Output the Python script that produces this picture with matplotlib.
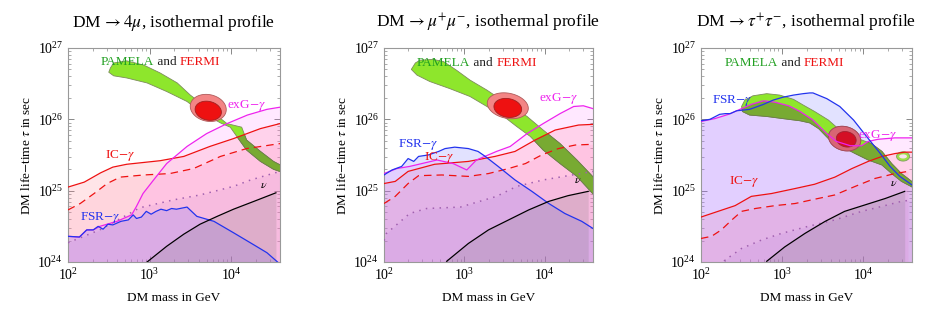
import numpy as np
import matplotlib
matplotlib.use("Agg")
import matplotlib.pyplot as plt

plt.rcParams['font.family'] = 'serif'
plt.rcParams['font.serif'] = ['Liberation Serif', 'DejaVu Serif']
plt.rcParams['mathtext.fontset'] = 'stix'

# all values as log10(mass / GeV) and log10(tau / s)

# ---- DM -> 4 mu ----
mu4_ic_m = [2.0, 2.20, 2.40, 2.55, 2.72, 3.13, 3.42, 3.74, 4.03, 4.36, 4.6]
mu4_ic_t = [25.05, 25.12, 25.25, 25.33, 25.37, 25.42, 25.48, 25.62, 25.73, 25.87, 25.94]
mu4_icd_m = [2.0, 2.15, 2.32, 2.48, 2.64, 2.93, 3.25, 3.54, 3.87, 4.19, 4.6]
mu4_icd_t = [24.73, 24.82, 24.96, 25.10, 25.19, 25.22, 25.24, 25.31, 25.48, 25.59, 25.66]
mu4_dot_m = [2.0, 2.39, 2.88, 3.29, 3.62, 4.03, 4.24, 4.6]
mu4_dot_t = [24.27, 24.45, 24.76, 24.87, 24.94, 25.06, 25.15, 25.27]
mu4_exg_m = [2.0, 2.14, 2.23, 2.31, 2.39, 2.60, 2.78, 2.84, 2.92, 3.05, 3.21, 3.46, 3.70, 3.95, 4.20, 4.44, 4.6]
mu4_exg_t = [24.36, 24.35, 24.45, 24.45, 24.50, 24.57, 24.66, 24.78, 24.96, 25.15, 25.38, 25.62, 25.80, 25.94,
             26.06, 26.14, 26.17]
mu4_fsr_m = [2.0, 2.14, 2.23, 2.31, 2.37, 2.43, 2.49, 2.55, 2.65, 2.74, 2.80, 2.84, 2.90, 2.96,
             3.02, 3.08, 3.14, 3.21, 3.27, 3.33, 3.46, 3.58, 3.79, 4.03, 4.28, 4.44, 4.57]
mu4_fsr_t = [24.36, 24.35, 24.45, 24.45, 24.50, 24.46, 24.53, 24.52, 24.57, 24.59, 24.66, 24.61, 24.63, 24.71,
             24.67, 24.71, 24.74, 24.72, 24.75, 24.74, 24.77, 24.64, 24.57, 24.41, 24.24, 24.13, 24.0]
mu4_nu_m = [2.97, 3.21, 3.42, 3.62, 3.83, 4.03, 4.28, 4.55]
mu4_nu_t = [24.0, 24.22, 24.39, 24.53, 24.64, 24.74, 24.85, 24.97]
mu4_green_m = [2.52, 2.56, 2.72, 2.93, 3.13, 3.34, 3.50, 3.74, 3.95, 4.13, 4.19, 4.36, 4.52, 4.62,
               4.62, 4.52, 4.36, 4.19, 4.07, 3.99, 3.87, 3.62, 3.46, 3.21, 2.97, 2.72, 2.56, 2.50]
mu4_green_t = [26.72, 26.79, 26.82, 26.76, 26.65, 26.51, 26.34, 26.13, 25.94, 25.89, 25.71, 25.55, 25.41, 25.35,
               25.26, 25.30, 25.41, 25.57, 25.76, 25.89, 25.95, 26.11, 26.25, 26.39, 26.51, 26.58, 26.61, 26.66]
mu4_fermi = [3.72, 26.16, 0.45, 0.37, -20]   # centre m, centre tau, width, height, tilt
mu4_fermi_in = [3.72, 26.12, 0.33, 0.26, -20]

# ---- DM -> mu+ mu- ----
mumu_ic_m = [2.0, 2.14, 2.30, 2.63, 3.05, 3.38, 3.63, 3.88, 4.13, 4.42, 4.61]
mumu_ic_t = [25.10, 25.13, 25.27, 25.37, 25.41, 25.48, 25.55, 25.71, 25.85, 25.92, 25.93]
mumu_icd_m = [2.0, 2.14, 2.30, 2.43, 2.72, 3.05, 3.30, 3.55, 3.76, 3.96, 4.17, 4.38, 4.6]
mumu_icd_t = [24.82, 24.92, 25.10, 25.21, 25.22, 25.20, 25.24, 25.31, 25.38, 25.50, 25.59, 25.64, 25.65]
mumu_dot_m = [2.0, 2.03, 2.32, 2.53, 2.95, 3.40, 3.65, 3.98, 4.6]
mumu_dot_t = [24.30, 24.40, 24.68, 24.75, 24.77, 24.92, 25.06, 25.15, 25.27]
mumu_exg_m = [2.0, 2.16, 2.32, 2.66, 2.86, 3.03, 3.15, 3.40, 3.57, 3.78, 3.98, 4.19, 4.36, 4.48, 4.6]
mumu_exg_t = [25.24, 25.31, 25.34, 25.43, 25.38, 25.29, 25.43, 25.55, 25.62, 25.80, 25.94, 26.08, 26.18, 26.19, 26.15]
mumu_fsr_m = [2.0, 2.10, 2.22, 2.30, 2.37, 2.43, 2.55, 2.68, 2.76, 2.88, 3.05, 3.17, 3.26, 3.42,
              3.63, 3.84, 4.05, 4.25, 4.46, 4.6]
mumu_fsr_t = [25.22, 25.29, 25.34, 25.45, 25.41, 25.48, 25.50, 25.55, 25.59, 25.61, 25.59, 25.55, 25.48, 25.34,
              25.15, 24.99, 24.82, 24.68, 24.57, 24.47]
mumu_nu_m = [2.78, 3.05, 3.30, 3.55, 3.80, 4.05, 4.29, 4.54]
mumu_nu_t = [24.01, 24.26, 24.45, 24.59, 24.73, 24.85, 24.93, 24.99]
mumu_green_m = [2.34, 2.39, 2.45, 2.61, 2.74, 2.90, 3.07, 3.28, 3.53, 3.78, 3.98, 4.19, 4.40, 4.62,
                4.62, 4.40, 4.19, 3.98, 3.82, 3.65, 3.49, 3.28, 3.07, 2.82, 2.57, 2.41]
mumu_green_t = [26.70, 26.79, 26.83, 26.84, 26.81, 26.69, 26.55, 26.41, 26.22, 26.04, 25.85, 25.66, 25.43, 25.17,
                24.93, 25.20, 25.38, 25.57, 25.76, 25.90, 26.04, 26.18, 26.32, 26.43, 26.53, 26.62]
mumu_fermi = [3.54, 26.19, 0.52, 0.35, -15]
mumu_fermi_in = [3.54, 26.16, 0.35, 0.26, -15]

# ---- DM -> tau+ tau- ----
tau_ic_m = [2.0, 2.42, 2.62, 2.87, 3.16, 3.40, 3.65, 3.86, 4.06, 4.23, 4.39, 4.51, 4.6]
tau_ic_t = [24.63, 24.79, 24.92, 24.96, 25.03, 25.09, 25.19, 25.31, 25.41, 25.48, 25.52, 25.54, 25.54]
tau_icd_m = [2.0, 2.13, 2.25, 2.38, 2.50, 2.67, 2.91, 3.16, 3.40, 3.65, 3.90, 4.14, 4.39, 4.55]
tau_icd_t = [24.33, 24.36, 24.45, 24.59, 24.71, 24.75, 24.79, 24.82, 24.88, 24.94, 25.06, 25.17, 25.24, 25.27]
tau_dot_m = [2.22, 2.30, 2.50, 2.75, 2.99, 3.32, 3.65, 3.98, 4.23, 4.47, 4.6]
tau_dot_t = [23.95, 24.03, 24.19, 24.31, 24.40, 24.50, 24.59, 24.71, 24.78, 24.85, 24.87]
tau_exg_m = [2.0, 2.17, 2.34, 2.50, 2.62, 2.77, 2.91, 3.08, 3.22, 3.38, 3.55, 3.67, 3.84, 3.98,
             4.06, 4.18, 4.39, 4.6]
tau_exg_t = [25.97, 26.01, 26.07, 26.15, 26.21, 26.26, 26.24, 26.19, 26.11, 25.99, 25.80, 25.69, 25.63, 25.63,
             25.69, 25.72, 25.74, 25.74]
tau_fsr_m = [2.0, 2.11, 2.23, 2.30, 2.36, 2.44, 2.60, 2.77, 2.89, 3.01, 3.14, 3.26, 3.34, 3.38,
             3.55, 3.71, 3.88, 4.04, 4.21, 4.33, 4.45, 4.6]
tau_fsr_t = [25.98, 26.00, 26.07, 26.08, 26.08, 26.12, 26.14, 26.21, 26.27, 26.31, 26.34, 26.36, 26.37, 26.37,
             26.29, 26.18, 25.99, 25.76, 25.52, 25.34, 25.20, 25.08]
tau_nu_m = [2.81, 3.03, 3.28, 3.53, 3.77, 4.02, 4.27, 4.51]
tau_nu_t = [24.01, 24.21, 24.40, 24.57, 24.71, 24.80, 24.89, 24.99]
tau_green_m = [2.50, 2.54, 2.64, 2.81, 2.97, 3.14, 3.26, 3.40, 3.57, 3.69, 3.86, 3.98, 4.10, 4.23, 4.35, 4.47, 4.62,
               4.62, 4.47, 4.35, 4.23, 4.06, 3.90, 3.73, 3.57, 3.45, 3.34, 3.22, 3.01, 2.81, 2.60, 2.51]
tau_green_t = [26.18, 26.27, 26.33, 26.36, 26.34, 26.28, 26.20, 26.11, 25.99, 25.87, 25.76, 25.71, 25.66, 25.55,
               25.38, 25.24, 25.11, 25.04, 25.13, 25.24, 25.36, 25.43, 25.52, 25.62, 25.73, 25.87, 25.95,
               25.98, 26.01, 26.04, 26.06, 26.11]
tau_fermi = [3.77, 25.73, 0.41, 0.33, -25]
tau_fermi_in = [3.79, 25.72, 0.25, 0.21, -25]
tau_ring = [4.49, 25.48, 0.16, 0.13, 0]

titles = [r'DM$\,\rightarrow 4\mu$, isothermal profile',
          r'DM$\,\rightarrow \mu^{+}\mu^{-}$, isothermal profile',
          r'DM$\,\rightarrow \tau^{+}\tau^{-}$, isothermal profile']
# label positions (log10 m, log10 tau)
lab_pamela = [(2.40, 26.80), (2.41, 26.79), (2.29, 26.79)]
lab_ic = [(2.64, 25.50), (2.68, 25.46), (2.53, 25.13)]
lab_exg = [(4.19, 26.20), (4.17, 26.29), (4.18, 25.78)]
lab_fsr = [(2.39, 24.63), (2.43, 25.65), (2.39, 26.27)]
lab_nu = [(4.40, 24.99), (4.41, 25.07), (4.38, 25.02)]

panels = [
    dict(ic=(mu4_ic_m, mu4_ic_t), icd=(mu4_icd_m, mu4_icd_t), dot=(mu4_dot_m, mu4_dot_t),
         exg=(mu4_exg_m, mu4_exg_t), fsr=(mu4_fsr_m, mu4_fsr_t), nu=(mu4_nu_m, mu4_nu_t),
         green=(mu4_green_m, mu4_green_t), fermi=mu4_fermi, fermi_in=mu4_fermi_in,
         shade_green='ic', shade_blob=None, ring=None),
    dict(ic=(mumu_ic_m, mumu_ic_t), icd=(mumu_icd_m, mumu_icd_t), dot=(mumu_dot_m, mumu_dot_t),
         exg=(mumu_exg_m, mumu_exg_t), fsr=(mumu_fsr_m, mumu_fsr_t), nu=(mumu_nu_m, mumu_nu_t),
         green=(mumu_green_m, mumu_green_t), fermi=mumu_fermi, fermi_in=mumu_fermi_in,
         shade_green='ic', shade_blob=None, ring=None),
    dict(ic=(tau_ic_m, tau_ic_t), icd=(tau_icd_m, tau_icd_t), dot=(tau_dot_m, tau_dot_t),
         exg=(tau_exg_m, tau_exg_t), fsr=(tau_fsr_m, tau_fsr_t), nu=(tau_nu_m, tau_nu_t),
         green=(tau_green_m, tau_green_t), fermi=tau_fermi, fermi_in=tau_fermi_in,
         shade_green='exg', shade_blob='fsr', ring=tau_ring),
]

fill_sty = {'ic': ('#ff8a9a', 0.22), 'icd': ('#ff7aa0', 0.15), 'dot': ('#b070c0', 0.10),
            'exg': ('#ff66ff', 0.15), 'fsr': ('#6f6fff', 0.20), 'nu': ('#707070', 0.18)}
line_sty = {'ic': dict(color='#ee1111', lw=0.9), 'icd': dict(color='#ee1111', lw=0.9, ls=(0, (6, 4))),
            'dot': dict(color='#a060b0', lw=1.1, ls=(0, (1, 3.5))), 'exg': dict(color='#ee22ee', lw=0.9),
            'fsr': dict(color='#2233ee', lw=0.9), 'nu': dict(color='k', lw=0.9)}


def P(a):
    return 10.0 ** np.asarray(a, float)


def ellipse(e):
    cx, cy, w, h, ang = e
    th = np.linspace(0, 2 * np.pi, 90)
    a = np.deg2rad(ang)
    x, y = w / 2 * np.cos(th), h / 2 * np.sin(th)
    return P(cx + x * np.cos(a) - y * np.sin(a)), P(cy + x * np.sin(a) + y * np.cos(a))


fig = plt.figure(figsize=(9.26, 3.17), dpi=100)
lefts = [68, 384, 701]
widths = [212, 209, 211]
for k, pd in enumerate(panels):
    ax = fig.add_axes([lefts[k] / 926, 55 / 317, widths[k] / 926, 214 / 317])
    ax.set_xscale('log'); ax.set_yscale('log')
    ax.set_xlim(1e2, 10 ** 4.6); ax.set_ylim(1e24, 1e27)

    polys = {}
    for key in ['ic', 'icd', 'dot', 'exg', 'fsr', 'nu']:
        m, t = pd[key]
        c, a = fill_sty[key]
        polys[key] = ax.fill_between(P(m), 1e24, P(t), color=c, alpha=a, lw=0, zorder=2)

    # PAMELA band + FERMI region
    gm, gt = pd['green']
    ax.fill(P(gm), P(gt), color='#8ee62c', ec='#7d8c5c', lw=0.6, zorder=2.3)
    olive = ax.fill(P(gm), P(gt), color='#78aa32', ec='#6d7c4c', lw=0.6, zorder=2.35)[0]
    sp = polys[pd['shade_green']]
    olive.set_clip_path(sp.get_paths()[0], ax.transData)

    ax.fill(*ellipse(pd['fermi']), color='#f38585', ec='#b05a5a', lw=0.6, zorder=2.4)
    ax.fill(*ellipse(pd['fermi_in']), color='#ee1111', ec='#a02020', lw=0.6, zorder=2.45)
    if pd['shade_blob']:
        bp = polys[pd['shade_blob']]
        d1 = ax.fill(*ellipse(pd['fermi']), color='#d86574', ec='#a04a5a', lw=0.6, zorder=2.46)[0]
        d2 = ax.fill(*ellipse(pd['fermi_in']), color='#d40f25', ec='#a02030', lw=0.6, zorder=2.47)[0]
        d1.set_clip_path(bp.get_paths()[0], ax.transData)
        d2.set_clip_path(bp.get_paths()[0], ax.transData)
    if pd['ring']:
        r = pd['ring']
        ax.fill(*ellipse(r), color='#9ee04a', ec='#7d9c5c', lw=0.6, zorder=2.4)
        ax.fill(*ellipse([r[0], r[1], r[2] * 0.6, r[3] * 0.45, 0]), color='#f8e4ee', lw=0, zorder=2.45)

    for key in ['ic', 'icd', 'dot', 'exg', 'fsr', 'nu']:
        m, t = pd[key]
        ax.plot(P(m), P(t), zorder=3, **line_sty[key])

    fs = 9.5
    px, py = lab_pamela[k]
    t1 = ax.text(P(px), P(py), 'PAMELA', color='#22a022', fontsize=fs, va='center', ha='left', zorder=5)
    t2 = ax.annotate(' and ', xy=(1, 0), xycoords=t1, va='bottom', ha='left', fontsize=fs, color='#222222', zorder=5)
    ax.annotate('FERMI', xy=(1, 0), xycoords=t2, va='bottom', ha='left', fontsize=fs, color='#ee1111', zorder=5)
    ax.text(P(lab_ic[k][0]), P(lab_ic[k][1]), r'IC$-\gamma$', color='#ee1111', fontsize=fs,
            ha='center', va='center', zorder=5)
    ax.text(P(lab_exg[k][0]), P(lab_exg[k][1]), r'exG$-\gamma$', color='#ee22ee', fontsize=fs,
            ha='center', va='center', zorder=5)
    ax.text(P(lab_fsr[k][0]), P(lab_fsr[k][1]), r'FSR$-\gamma$', color='#2233ee', fontsize=fs,
            ha='center', va='center', zorder=5)
    ax.text(P(lab_nu[k][0]), P(lab_nu[k][1]), r'$\nu$', color='k', fontsize=8.5,
            ha='center', va='bottom', zorder=5)

    ax.set_title(titles[k], fontsize=12.5, pad=15)
    ax.set_xlabel('DM mass in GeV', fontsize=9.5, labelpad=7)
    ax.set_ylabel(r'DM life$-$time $\tau$ in sec', fontsize=9.5, labelpad=3)
    ax.tick_params(which='both', direction='in', top=True, right=True, color='#888888', labelsize=10)
    ax.tick_params(which='major', length=4, width=0.7)
    ax.tick_params(which='minor', length=2, width=0.5)
    for s in ax.spines.values():
        s.set_color('#999999'); s.set_linewidth(0.8)

fig.savefig('out.png', dpi=100)
